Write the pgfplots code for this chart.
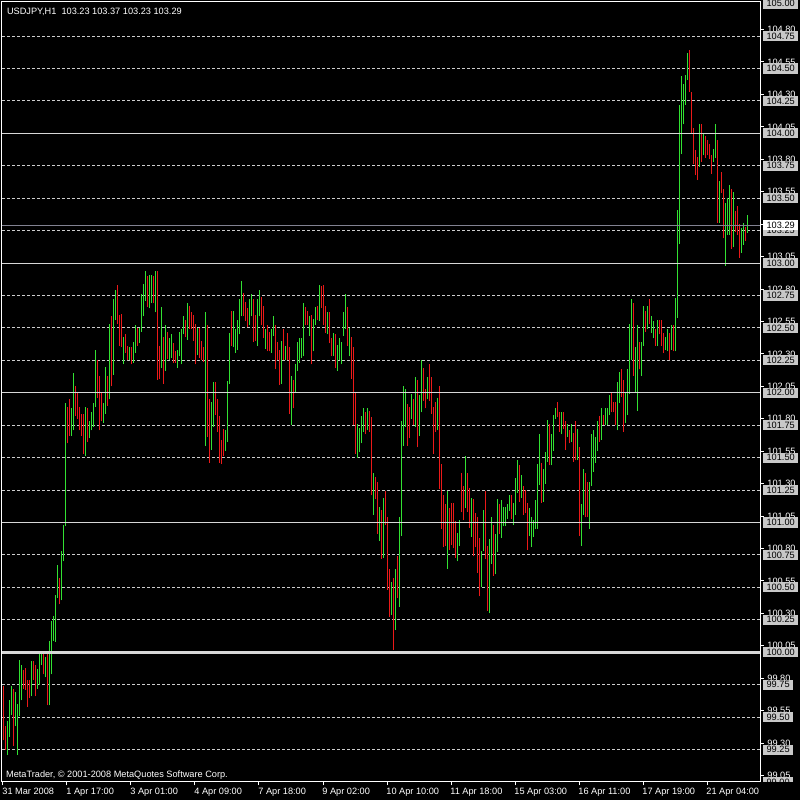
\documentclass[border=0pt]{standalone}
\usepackage{fontspec}
\setmainfont{Liberation Sans}
\usepackage{pgfplots}
\usepackage{pgfplotstable}
\pgfplotsset{compat=1.18}
\definecolor{gUp}{RGB}{50,225,50}
\definecolor{rDn}{RGB}{235,25,25}
\definecolor{gridc}{RGB}{205,205,205}
\definecolor{solidc}{RGB}{215,215,215}
\definecolor{pricec}{RGB}{130,130,145}
\definecolor{lblc}{RGB}{200,200,200}
\newcommand\lbl{\fontsize{4.6}{5}\selectfont}
\pgfplotstableread{
i l h c
0 99.32 99.74 0
1 99.25 99.43 0
2 99.21 99.47 1
3 99.35 99.63 1
4 99.52 99.74 1
5 99.28 99.72 0
6 99.43 99.69 1
7 99.21 99.60 1
8 99.51 99.94 1
9 99.63 99.90 1
10 99.72 99.86 0
11 99.71 99.88 0
12 99.58 99.79 0
13 99.65 99.79 0
14 99.66 99.93 1
15 99.79 99.93 0
16 99.66 99.90 0
17 99.72 99.87 1
18 99.75 100.00 1
19 99.90 100.00 1
20 99.83 100.00 0
21 99.81 99.96 1
22 99.59 99.99 0
23 99.59 100.09 1
24 99.83 100.24 1
25 100.09 100.28 1
26 100.08 100.44 1
27 100.42 100.67 1
28 100.37 100.57 0
29 100.40 100.78 1
30 100.70 100.98 1
31 100.97 101.92 1
32 101.61 101.89 0
33 101.67 101.95 0
34 101.67 101.88 1
35 101.71 102.15 1
36 101.82 102.05 0
37 101.80 102.01 0
38 101.71 101.89 0
39 101.67 101.84 0
40 101.53 101.84 0
41 101.51 101.89 1
42 101.62 101.88 0
43 101.65 101.78 1
44 101.71 101.85 1
45 101.74 101.92 1
46 101.89 102.33 1
47 101.96 102.25 0
48 101.71 102.13 0
49 101.78 102.01 0
50 101.77 101.92 1
51 101.84 102.20 1
52 101.90 102.13 0
53 101.95 102.53 1
54 102.05 102.59 0
55 102.14 102.72 1
56 102.56 102.79 1
57 102.53 102.83 0
58 102.36 102.60 0
59 102.35 102.61 0
60 102.22 102.43 1
61 102.31 102.45 0
62 102.25 102.36 0
63 102.25 102.35 1
64 102.22 102.35 0
65 102.23 102.39 1
66 102.31 102.52 1
67 102.36 102.50 0
68 102.38 102.50 1
69 102.47 102.76 1
70 102.59 102.84 1
71 102.71 102.94 1
72 102.66 102.90 0
73 102.65 102.91 1
74 102.69 102.91 1
75 102.69 102.90 0
76 102.62 102.94 1
77 102.10 102.94 0
78 102.11 102.36 0
79 102.19 102.66 1
80 102.07 102.43 0
81 102.17 102.52 1
82 102.26 102.47 0
83 102.25 102.42 1
84 102.27 102.45 1
85 102.23 102.38 0
86 102.23 102.32 0
87 102.19 102.33 1
88 102.28 102.47 1
89 102.22 102.49 1
90 102.45 102.59 1
91 102.43 102.56 0
92 102.41 102.69 1
93 102.49 102.67 0
94 102.49 102.62 0
95 102.40 102.60 0
96 102.22 102.53 0
97 102.29 102.50 1
98 102.27 102.50 0
99 102.25 102.40 0
100 102.24 102.35 0
101 101.59 102.62 1
102 101.66 102.52 0
103 101.46 101.95 0
104 101.56 101.93 1
105 101.74 102.08 1
106 101.83 102.08 0
107 101.70 101.95 0
108 101.46 101.82 0
109 101.45 101.64 0
110 101.51 101.72 0
111 101.55 101.71 1
112 101.62 102.09 1
113 102.07 102.46 1
114 102.36 102.63 0
115 102.35 102.63 1
116 102.31 102.49 1
117 102.33 102.56 1
118 102.45 102.72 1
119 102.59 102.86 1
120 102.59 102.77 0
121 102.55 102.70 0
122 102.51 102.65 0
123 102.52 102.72 1
124 102.59 102.76 1
125 102.39 102.72 0
126 102.40 102.60 0
127 102.36 102.72 1
128 102.59 102.79 1
129 102.52 102.74 0
130 102.42 102.67 0
131 102.34 102.49 1
132 102.32 102.52 0
133 102.32 102.47 0
134 102.31 102.49 1
135 102.44 102.59 1
136 102.18 102.52 0
137 102.25 102.39 0
138 102.06 102.33 0
139 102.07 102.40 1
140 102.25 102.49 0
141 102.25 102.36 1
142 102.25 102.46 0
143 101.84 102.35 0
144 101.75 102.13 1
145 101.88 102.10 0
146 102.01 102.22 1
147 102.17 102.39 1
148 102.23 102.42 1
149 102.27 102.42 1
150 102.28 102.69 1
151 102.52 102.66 0
152 102.52 102.63 0
153 102.44 102.59 1
154 102.22 102.60 0
155 102.32 102.57 1
156 102.52 102.66 1
157 102.56 102.67 0
158 102.55 102.83 1
159 102.65 102.82 0
160 102.52 102.83 0
161 102.46 102.67 0
162 102.45 102.62 1
163 102.38 102.62 0
164 102.28 102.42 0
165 102.28 102.46 1
166 102.19 102.45 0
167 102.17 102.37 1
168 102.25 102.42 1
169 102.22 102.39 1
170 102.44 102.62 1
171 102.49 102.76 1
172 102.36 102.66 0
173 102.28 102.50 1
174 102.11 102.43 0
175 101.75 102.35 0
176 101.53 102.01 0
177 101.50 101.76 1
178 101.54 101.73 1
179 101.61 101.82 1
180 101.70 101.88 1
181 101.68 101.85 0
182 101.71 101.88 1
183 101.70 101.86 0
184 101.21 101.81 0
185 101.06 101.38 1
186 101.18 101.35 0
187 100.91 101.31 0
188 100.86 101.12 1
189 100.72 101.10 0
190 100.73 101.19 1
191 100.98 101.24 0
192 100.48 101.04 0
193 100.27 100.64 0
194 100.29 100.54 1
195 100.02 100.57 0
196 100.17 100.64 1
197 100.42 100.74 0
198 100.35 101.04 1
199 100.90 101.78 1
200 101.59 102.05 1
201 101.74 102.03 1
202 101.59 101.91 0
203 101.65 101.89 0
204 101.80 101.99 1
205 101.75 101.95 0
206 101.74 102.12 1
207 101.58 102.10 0
208 101.67 101.98 1
209 101.85 102.25 1
210 101.94 102.19 0
211 101.88 102.03 0
212 101.95 102.12 1
213 101.94 102.22 0
214 101.84 102.12 0
215 101.53 101.89 0
216 101.70 101.93 0
217 101.71 101.96 1
218 101.26 102.05 0
219 100.95 101.45 0
220 100.81 101.21 0
221 100.82 101.14 0
222 100.64 101.24 1
223 100.79 101.11 0
224 100.83 101.15 0
225 100.80 101.15 0
226 100.73 101.01 0
227 100.70 100.92 1
228 100.82 101.02 1
229 101.08 101.38 0
230 101.02 101.28 0
231 101.11 101.51 1
232 101.08 101.38 0
233 100.96 101.27 0
234 100.89 101.19 1
235 100.74 101.18 0
236 100.81 101.07 0
237 100.61 101.04 0
238 100.43 100.88 0
239 100.50 100.78 1
240 100.78 101.10 1
241 100.72 101.24 0
242 100.32 100.82 0
243 100.30 100.87 1
244 100.68 101.04 1
245 100.59 100.98 0
246 100.60 100.91 1
247 100.77 101.18 1
248 100.91 101.14 0
249 100.88 101.17 1
250 100.97 101.12 1
251 100.97 101.12 1
252 101.03 101.14 1
253 101.09 101.21 1
254 101.03 101.21 0
255 100.98 101.15 1
256 101.06 101.34 1
257 101.23 101.48 1
258 101.16 101.44 0
259 101.19 101.37 1
260 101.06 101.28 0
261 101.07 101.25 0
262 100.79 101.15 0
263 100.90 101.11 1
264 100.81 101.04 1
265 100.89 101.02 1
266 100.95 101.17 1
267 100.95 101.45 1
268 101.29 101.68 1
269 101.15 101.46 0
270 101.16 101.41 1
271 101.30 101.54 1
272 101.47 101.79 1
273 101.44 101.76 0
274 101.44 101.68 1
275 101.55 101.83 1
276 101.80 101.88 1
277 101.81 101.93 0
278 101.70 101.85 0
279 101.68 101.85 1
280 101.72 101.85 0
281 101.56 101.78 0
282 101.66 101.76 1
283 101.61 101.71 0
284 101.62 101.76 1
285 101.47 101.69 0
286 101.48 101.78 0
287 101.48 101.72 1
288 100.90 101.58 0
289 100.82 101.14 1
290 101.06 101.41 1
291 101.04 101.38 0
292 101.04 101.31 0
293 100.95 101.31 1
294 101.28 101.68 1
295 101.39 101.71 1
296 101.46 101.66 1
297 101.55 101.78 1
298 101.62 101.82 0
299 101.64 101.88 1
300 101.75 101.83 0
301 101.75 101.88 1
302 101.75 101.88 1
303 101.83 101.98 1
304 101.85 102.01 0
305 101.85 101.93 0
306 101.75 101.93 0
307 101.71 102.08 1
308 101.92 102.16 1
309 101.97 102.18 0
310 101.70 102.10 0
311 101.77 102.01 1
312 101.83 102.18 1
313 101.99 102.53 1
314 102.25 102.72 1
315 102.13 102.69 0
316 102.00 102.35 1
317 101.86 102.52 1
318 102.18 102.39 0
319 102.13 102.39 1
320 102.36 102.67 1
321 102.47 102.63 0
322 102.49 102.67 1
323 102.53 102.72 0
324 102.46 102.59 1
325 102.42 102.55 1
326 102.36 102.49 0
327 102.36 102.56 1
328 102.45 102.56 0
329 102.36 102.56 0
330 102.31 102.46 0
331 102.33 102.43 1
332 102.32 102.49 1
333 102.25 102.46 0
334 102.33 102.52 1
335 102.32 102.52 0
336 102.32 102.73 1
337 102.58 103.41 1
338 103.15 104.22 1
339 103.84 104.44 1
340 104.07 104.38 1
341 104.22 104.45 1
342 104.41 104.62 1
343 104.32 104.64 0
344 104.00 104.32 0
345 103.76 104.04 0
346 103.68 103.87 0
347 103.64 103.82 0
348 103.74 104.07 1
349 103.78 104.07 0
350 103.83 104.00 1
351 103.81 103.98 0
352 103.83 103.95 0
353 103.80 103.92 0
354 103.69 103.83 0
355 103.78 103.88 1
356 103.81 104.07 1
357 103.31 103.95 0
358 103.31 103.63 1
359 103.54 103.70 0
360 103.19 103.57 0
361 102.98 103.46 1
362 103.22 103.50 1
363 103.22 103.60 1
364 103.11 103.57 0
365 103.12 103.55 1
366 103.24 103.40 0
367 103.22 103.44 0
368 103.04 103.30 0
369 103.08 103.27 1
370 103.14 103.31 1
371 103.17 103.28 0
372 103.23 103.37 1
}\bars
\begin{document}
\begin{tikzpicture}
\useasboundingbox (0,0) rectangle (400pt,400pt);
\fill[black] (0,0) rectangle (400pt,400pt);
\begin{axis}[
  at={(1pt,9pt)}, anchor=south west,
  scale only axis, width=379pt, height=390.5pt,
  xmin=-0.65, xmax=378.35, ymin=99.0, ymax=105.02,
  clip=false,
  axis line style={draw=white, line width=0.5pt},
  xtick={-0.15,31.85,63.85,95.85,127.85,159.85,191.85,223.85,255.85,287.85,319.85,351.85},
  ytick={99.05,99.30,99.55,99.80,100.05,100.30,100.55,100.80,101.05,101.30,101.55,101.80,102.05,102.30,102.55,102.80,103.05,103.30,103.55,103.80,104.05,104.30,104.55,104.80},
  xticklabels={}, yticklabels={},
  xtick pos=bottom, ytick pos=right,
  tick align=outside, major tick length=1.75pt,
  tick style={draw=white, line width=0.5pt},
]
\pgfplotsinvokeforeach{99.25,99.50,99.75,100.25,100.50,100.75,101.25,101.50,101.75,102.25,102.50,102.75,103.25,103.50,103.75,104.25,104.50,104.75}{
  \draw[gridc, line width=0.5pt, dash pattern=on 1.5pt off 1pt] (axis cs:-0.65,#1) -- (axis cs:378.35,#1);
}
\addplot[draw=none, mark=none, forget plot,
  restrict expr to domain={\thisrow{c}}{0.5:1.5},
  error bars/.cd, y dir=plus, y explicit, error mark=none,
  error bar style={draw=gUp, solid, line width=0.65pt}]
  table[x=i, y=l, y error expr=\thisrow{h}-\thisrow{l}] {\bars};
\addplot[draw=none, mark=none, forget plot,
  restrict expr to domain={\thisrow{c}}{-0.5:0.5},
  error bars/.cd, y dir=plus, y explicit, error mark=none,
  error bar style={draw=rDn, solid, line width=0.65pt}]
  table[x=i, y=l, y error expr=\thisrow{h}-\thisrow{l}] {\bars};
\pgfplotsinvokeforeach{101,102,103,104}{
  \draw[solidc, line width=0.5pt] (axis cs:-0.65,#1) -- (axis cs:378.35,#1);
}
\draw[solidc, line width=1.5pt] (axis cs:-0.65,100) -- (axis cs:378.35,100);
\draw[pricec, line width=0.5pt] (axis cs:-0.65,103.29) -- (axis cs:378.35,103.29);
\pgfplotsinvokeforeach{99.05,99.30,99.55,99.80,100.05,100.30,100.55,100.80,101.05,101.30,101.55,101.80,102.05,102.30,102.55,102.80,103.05,103.30,103.55,103.80,104.05,104.30,104.55,104.80}{
  \node[anchor=west, text=white, font=\lbl, inner sep=0pt, xshift=3.5pt] at (axis cs:378.35,#1) {#1};
}
\pgfplotsinvokeforeach{99.00,99.25,99.50,99.75,100.00,100.25,100.50,100.75,101.00,101.25,101.50,101.75,102.00,102.25,102.50,102.75,103.00,103.25,103.50,103.75,104.00,104.25,104.50,104.75,105.00}{
  \node[anchor=west, fill=lblc, text=black, font=\lbl, inner xsep=1.6pt, inner ysep=0.9pt, xshift=1.5pt] at (axis cs:378.35,#1) {#1};
}
\node[anchor=west, fill=white, text=black, font=\lbl, inner xsep=1.6pt, inner ysep=0.9pt, xshift=1.5pt] at (axis cs:378.35,103.29) {103.29};
\node[anchor=base west, text=white, font=\lbl, inner sep=0pt, xshift=-0.5pt, yshift=-6.5pt] at (axis cs:-0.15,99) {31 Mar 2008};
\node[anchor=base west, text=white, font=\lbl, inner sep=0pt, xshift=-0.5pt, yshift=-6.5pt] at (axis cs:31.85,99) {1 Apr 17:00};
\node[anchor=base west, text=white, font=\lbl, inner sep=0pt, xshift=-0.5pt, yshift=-6.5pt] at (axis cs:63.85,99) {3 Apr 01:00};
\node[anchor=base west, text=white, font=\lbl, inner sep=0pt, xshift=-0.5pt, yshift=-6.5pt] at (axis cs:95.85,99) {4 Apr 09:00};
\node[anchor=base west, text=white, font=\lbl, inner sep=0pt, xshift=-0.5pt, yshift=-6.5pt] at (axis cs:127.85,99) {7 Apr 18:00};
\node[anchor=base west, text=white, font=\lbl, inner sep=0pt, xshift=-0.5pt, yshift=-6.5pt] at (axis cs:159.85,99) {9 Apr 02:00};
\node[anchor=base west, text=white, font=\lbl, inner sep=0pt, xshift=-0.5pt, yshift=-6.5pt] at (axis cs:191.85,99) {10 Apr 10:00};
\node[anchor=base west, text=white, font=\lbl, inner sep=0pt, xshift=-0.5pt, yshift=-6.5pt] at (axis cs:223.85,99) {11 Apr 18:00};
\node[anchor=base west, text=white, font=\lbl, inner sep=0pt, xshift=-0.5pt, yshift=-6.5pt] at (axis cs:255.85,99) {15 Apr 03:00};
\node[anchor=base west, text=white, font=\lbl, inner sep=0pt, xshift=-0.5pt, yshift=-6.5pt] at (axis cs:287.85,99) {16 Apr 11:00};
\node[anchor=base west, text=white, font=\lbl, inner sep=0pt, xshift=-0.5pt, yshift=-6.5pt] at (axis cs:319.85,99) {17 Apr 19:00};
\node[anchor=base west, text=white, font=\lbl, inner sep=0pt, xshift=-0.5pt, yshift=-6.5pt] at (axis cs:351.85,99) {21 Apr 04:00};
\end{axis}
\fill[black] (380.3pt,0) rectangle (400pt,8.75pt);
\node[anchor=base west, text=white, font=\lbl, inner sep=0pt] at (3.3pt,392.85pt) {USDJPY,H1\ \ 103.23 103.37 103.23 103.29};
\node[anchor=base west, text=white, font=\lbl, inner sep=0pt] at (2.85pt,11.25pt) {MetaTrader, © 2001-2008 MetaQuotes Software Corp.};
\end{tikzpicture}
\end{document}
